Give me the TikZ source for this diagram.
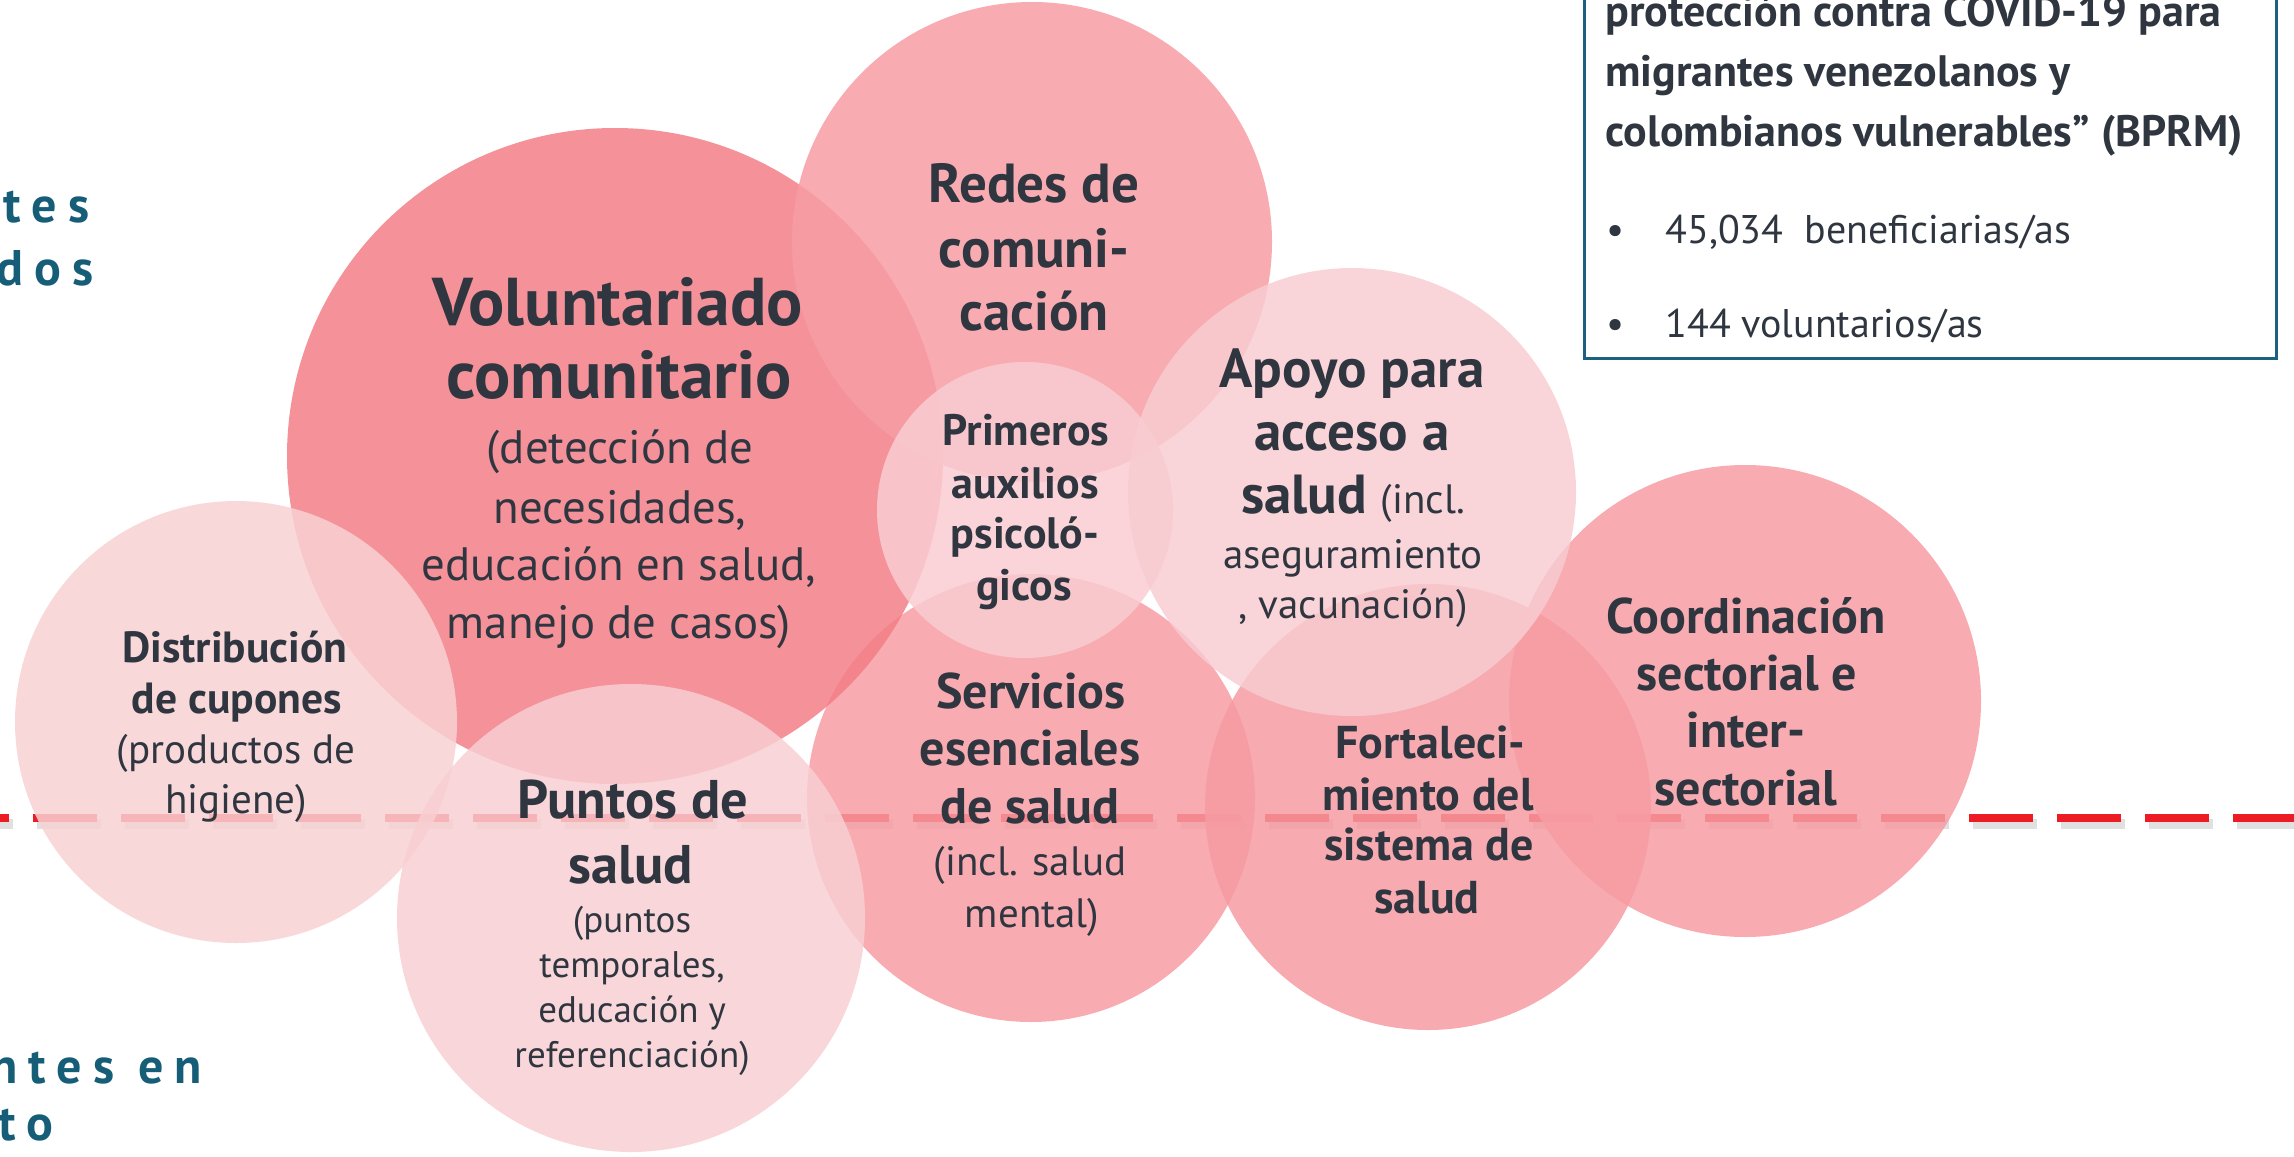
\documentclass[tikz,border=0pt]{standalone}
\usepackage{fontspec}
\setmainfont{PT Sans}
\newfontfamily\tealfont[LetterSpace=22]{PT Sans}
\definecolor{ink}{RGB}{47,54,64}
\definecolor{tealc}{RGB}{22,94,120}
\definecolor{boxc}{RGB}{28,98,128}
\definecolor{dashred}{RGB}{237,28,36}
\definecolor{cVol}{RGB}{243,126,134}
\definecolor{cRed}{RGB}{247,158,164}
\definecolor{cSer}{RGB}{247,157,163}
\definecolor{cFor}{RGB}{246,155,162}
\definecolor{cCoo}{RGB}{247,157,163}
\definecolor{cPri}{RGB}{249,205,210}
\definecolor{cApo}{RGB}{248,204,209}
\definecolor{cDis}{RGB}{248,209,212}
\definecolor{cPun}{RGB}{248,207,210}
\tikzset{
  bub/.style={circle, inner sep=0pt, draw=none, fill=#1, fill opacity=0.85},
  lb/.style={anchor=base, inner sep=0pt, text=ink, font=\bfseries\fontsize{#1}{#1}\selectfont},
  lr/.style={anchor=base, inner sep=0pt, text=ink, font=\fontsize{#1}{#1}\selectfont},
  lbw/.style={anchor=base west, inner sep=0pt, text=ink, font=\bfseries\fontsize{#1}{#1}\selectfont},
  lrw/.style={anchor=base west, inner sep=0pt, text=ink, font=\fontsize{#1}{#1}\selectfont},
  tealtxt/.style={anchor=base west, inner sep=0pt, text=tealc, font=\tealfont\bfseries\fontsize{25pt}{25pt}\selectfont},
  dashline/.style={draw=dashred, line width=4pt, dash pattern=on 32pt off 12pt},
  dashshadow/.style={draw=black, opacity=0.12, line width=5pt, dash pattern=on 32pt off 12pt},
  boxline/.style={draw=boxc, line width=1.5pt}
}
\begin{document}
\begin{tikzpicture}[x=0.5pt,y=-0.5pt]
\useasboundingbox (0,0) rectangle (2294,1156);
% teal side labels
\node[tealtxt] (t1) at (3,222) {tes};
\node[tealtxt] (t2) at (-4,285) {dos};
\node[tealtxt] (t3) at (-10,1083) {ntes en};
\node[tealtxt] (t4) at (-2,1140) {to};
% dashed line
\coordinate (dl) at (-55,818);
\coordinate (dr) at (2330,818);
\draw[dashshadow] ([shift={(4,6)}]dl) -- ([shift={(4,6)}]dr);
\draw[dashline] (dl) -- (dr);
% circles
\node[bub=cSer, minimum size=224pt] (ser) at (1031,798) {};
\node[bub=cFor, minimum size=223pt] (for) at (1428,807) {};
\node[bub=cCoo, minimum size=236pt] (coo) at (1745,701) {};
\node[bub=cVol, minimum size=328pt] (vol) at (615,456) {};
\node[bub=cRed, minimum size=240pt] (red) at (1032,242) {};
\node[bub=cDis, minimum size=221pt] (dis) at (236,722) {};
\node[bub=cPun, minimum size=234pt] (pun) at (631,918) {};
\node[bub=cPri, minimum size=148pt] (pri) at (1025,510) {};
\node[bub=cApo, minimum size=224pt] (apo) at (1352,492) {};
% box
\draw[boxline] (1584,-10) rectangle (2276,358);
\node[lbw=22pt] (b1) at (1605,27) {protección contra COVID-19 para};
\node[lbw=22pt] (b2) at (1605,87) {migrantes venezolanos y};
\node[lbw=22pt] (b3) at (1605,147) {colombianos vulnerables” (BPRM)};
\node[lrw=20pt] (b4) at (1606,243) {•};
\node[lrw=20pt] (b5) at (1665,243) {45,034\ \ beneficiarias/as};
\node[lrw=20pt] (b6) at (1606,337) {•};
\node[lrw=20pt] (b7) at (1665,337) {144 voluntarios/as};
% Voluntariado
\node[lb=33.8pt] (v1) at (618,325) {Voluntariado};
\node[lb=33.8pt] (v2) at (619,398) {comunitario};
\node[lr=23.4pt] (v3) at (620,463) {(detección de};
\node[lr=23.4pt] (v4) at (620,523) {necesidades,};
\node[lr=23.4pt] (v5) at (619,580) {educación en salud,};
\node[lr=23.4pt] (v6) at (619,638) {manejo de casos)};
% Redes
\node[lb=27.5pt] (r1) at (1034,202) {Redes de};
\node[lb=27.5pt] (r2) at (1034,267) {comuni-};
\node[lb=27.5pt] (r3) at (1034,330) {cación};
% Primeros
\node[lb=22pt] (p1) at (1026,445) {Primeros};
\node[lb=22pt] (p2) at (1025,498) {auxilios};
\node[lb=22pt] (p3) at (1025,548) {psicoló-};
\node[lb=22pt] (p4) at (1024,600) {gicos};
% Apoyo
\node[lb=27.5pt] (a1) at (1352,387) {Apoyo para};
\node[lb=27.5pt] (a2) at (1352,450) {acceso a};
\node[lb=27.5pt] (a3) at (1353,513) {salud {\mdseries\fontsize{20.5pt}{20.5pt}\selectfont (incl.}};
\node[lr=20.5pt] (a4) at (1353,568) {aseguramiento};
\node[lr=20.5pt] (a5) at (1353,618) {, vacunación)};
% Servicios
\node[lb=25pt] (s1) at (1031,708) {Servicios};
\node[lb=25pt] (s2) at (1030,765) {esenciales};
\node[lb=25pt] (s3) at (1030,823) {de salud};
\node[lr=20.5pt] (s4) at (1030,875) {(incl. salud};
\node[lr=20.5pt] (s5) at (1032,927) {mental)};
% Fortalecimiento
\node[lb=23pt] (f1) at (1430,758) {Fortaleci-};
\node[lb=23pt] (f2) at (1428,810) {miento del};
\node[lb=23pt] (f3) at (1429,860) {sistema de};
\node[lb=23pt] (f4) at (1427,913) {salud};
% Coordinacion
\node[lb=25pt] (c1) at (1746,633) {Coordinación};
\node[lb=25pt] (c2) at (1747,690) {sectorial e};
\node[lb=25pt] (c3) at (1746,747) {inter-};
\node[lb=25pt] (c4) at (1746,805) {sectorial};
% Distribucion
\node[lb=21.8pt] (d1) at (235,662) {Distribución};
\node[lb=21.8pt] (d2) at (237,713) {de cupones};
\node[lr=20.5pt] (d3) at (236,763) {(productos de};
\node[lr=20.5pt] (d4) at (236,813) {higiene)};
% Puntos
\node[lb=27.2pt] (u1) at (633,818) {Puntos de};
\node[lb=27.2pt] (u2) at (631,883) {salud};
\node[lr=18.5pt] (u3) at (632,932) {(puntos};
\node[lr=18.5pt] (u4) at (632,977) {temporales,};
\node[lr=18.5pt] (u5) at (632,1022) {educación y};
\node[lr=18.5pt] (u6) at (632,1067) {referenciación)};
\end{tikzpicture}
\end{document}
